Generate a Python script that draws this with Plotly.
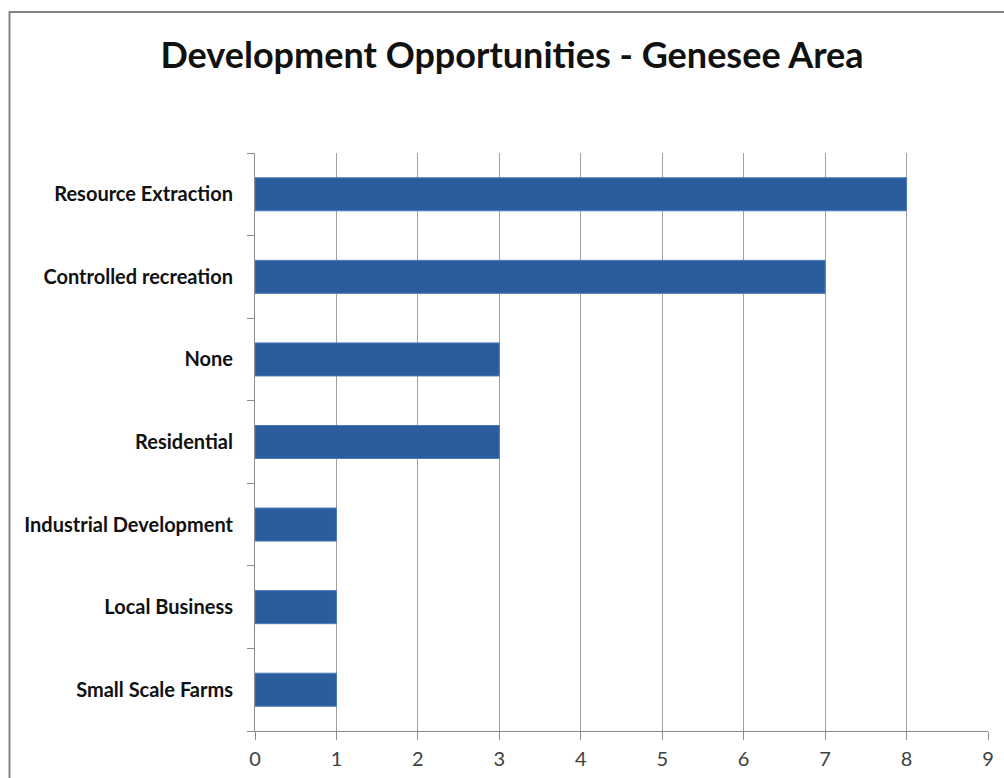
import plotly.graph_objects as go

# Survey responses: development opportunities, Genesee area
categories = [
    "Resource Extraction",
    "Controlled recreation",
    "None",
    "Residential",
    "Industrial Development",
    "Local Business",
    "Small Scale Farms",
]
counts = [8, 7, 3, 3, 1, 1, 1]
x_ticks = [0, 1, 2, 3, 4, 5, 6, 7, 8, 9]

W, H = 1004, 778
L, R, T, B = 255, 16, 153, 47
pw, ph = W - L - R, H - T - B

fig = go.Figure(
    go.Bar(
        x=counts,
        y=categories,
        orientation="h",
        width=0.4,
        marker=dict(color="#2B5C9E", line=dict(color="#4A7BBB", width=1)),
    )
)

fig.update_layout(
    width=W,
    height=H,
    margin=dict(l=L, r=R, t=T, b=B),
    paper_bgcolor="white",
    plot_bgcolor="white",
    showlegend=False,
    font=dict(family="Lato, Open Sans, sans-serif", color="#222222"),
    title=dict(
        text="<b>Development Opportunities - Genesee Area</b>",
        x=(512 - L) / pw,
        xref="paper",
        xanchor="center",
        y=1 - 55 / H,
        yanchor="middle",
        font=dict(size=36, color="#111111"),
    ),
    bargap=0.6,
)

fig.update_xaxes(
    range=[0, 9],
    tickvals=x_ticks,
    showgrid=True,
    gridcolor="#A0A0A0",
    gridwidth=1,
    showline=True,
    linecolor="#8C8C8C",
    linewidth=1,
    ticks="outside",
    ticklen=8,
    tickcolor="#8C8C8C",
    tickfont=dict(size=20, color="#404040"),
    ticklabelstandoff=2,
    zeroline=False,
    automargin=False,
    fixedrange=True,
)

fig.update_yaxes(
    categoryorder="array",
    categoryarray=categories[::-1],
    range=[-0.5, len(categories) - 0.5],
    showgrid=False,
    showline=True,
    linecolor="#8C8C8C",
    linewidth=1,
    ticks="outside",
    tickson="boundaries",
    ticklen=7,
    tickcolor="#8C8C8C",
    tickfont=dict(size=20, color="#111111", weight="bold"),
    ticklabelstandoff=17,
    zeroline=False,
    automargin=False,
    fixedrange=True,
)

# Outer frame around the whole chart (runs past the right and bottom edges)
fig.add_shape(
    type="rect",
    xref="paper",
    yref="paper",
    x0=(9.5 - L) / pw,
    x1=(W + 20 - L) / pw,
    y0=-(B + 20) / ph,
    y1=1 + (T - 12) / ph,
    line=dict(color="#858585", width=2),
    fillcolor="rgba(0,0,0,0)",
    layer="above",
)

fig.write_html("out.html")
